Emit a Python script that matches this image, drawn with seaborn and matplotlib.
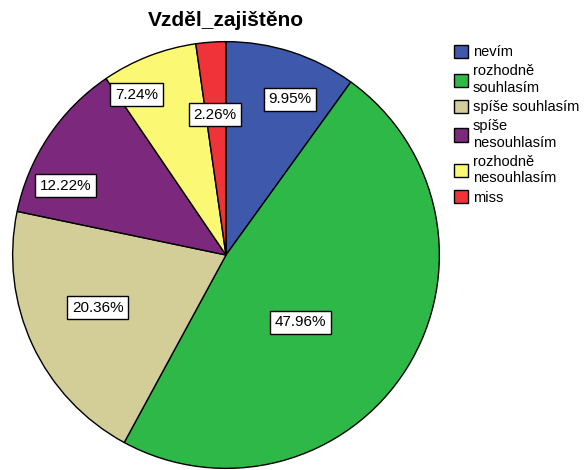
import numpy as np
import matplotlib
matplotlib.use("Agg")
import matplotlib.pyplot as plt
import seaborn as sns

# data
categories = ["nevím", "rozhodně\nsouhlasím", "spíše souhlasím",
              "spíše\nnesouhlasím", "rozhodně\nnesouhlasím", "miss"]
percents = [9.95, 47.96, 20.36, 12.22, 7.24, 2.26]
colors = ["#3E58AC", "#2EB848", "#D3CE97", "#7C287D", "#FBF873", "#EF3338"]
# where each percentage box sits: fraction of radius, and turn away from slice middle (deg)
label_radius = [0.79, 0.47, 0.65, 0.82, 0.86, 0.66]
label_shift = [-4.5, -10, -2.5, 10.5, 8, 0.5]

sns.set_style("white")
plt.rcParams['font.family'] = ['Liberation Sans', 'DejaVu Sans']
plt.rcParams['text.color'] = 'black'

fig = plt.figure(figsize=(5.84, 4.70), dpi=100)
ax = fig.add_axes([11 / 584, 1 / 470, 430 / 584, 428 / 470])

palette = sns.color_palette(colors)
wedges, _ = ax.pie(percents, colors=palette, startangle=90, counterclock=False,
                   wedgeprops=dict(edgecolor="black", linewidth=1))
ax.set_xlim(-1.003, 1.003)
ax.set_ylim(-1.003, 1.003)
ax.set_aspect("equal")

for w, p, r, s in zip(wedges, percents, label_radius, label_shift):
    mid = np.deg2rad((w.theta1 + w.theta2) / 2 + s)
    ax.text(r * np.cos(mid), r * np.sin(mid), f"{p:.2f}%", ha="center", va="center",
            fontsize=11,
            bbox=dict(boxstyle="square,pad=0.3", fc="white", ec="black", lw=1))

fig.text(226 / 584, 1 - 20 / 470, "Vzděl_zajištěno", ha="center", va="center",
         fontsize=15, fontweight="bold")

handles = [plt.Rectangle((0, 0), 1, 1, fc=c, ec="black", lw=1) for c in palette]
fig.legend(handles, categories, loc="upper left", bbox_to_anchor=(448 / 584, 1 - 39 / 470),
           frameon=False, fontsize=10.5, handlelength=1.0, handleheight=1.0,
           handletextpad=0.3, labelspacing=0.35, borderaxespad=0)

fig.savefig("out.png", dpi=100)
